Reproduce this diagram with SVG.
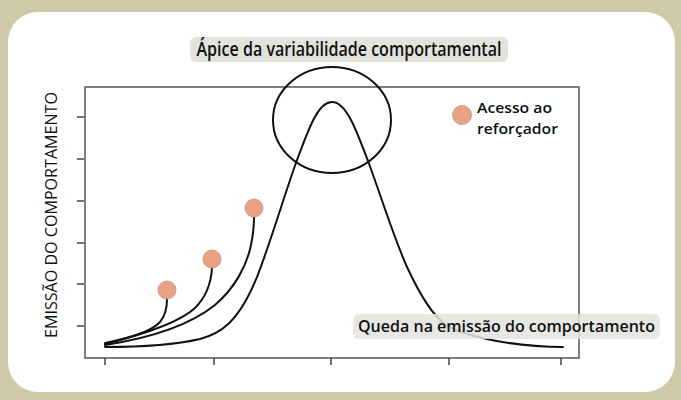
<svg xmlns="http://www.w3.org/2000/svg" width="681" height="400" viewBox="0 0 681 400">
<style>
.curve{fill:none;stroke:#111;stroke-width:2;stroke-linejoin:round;stroke-linecap:round}
.dot{fill:#e9a283;stroke:#c98c72;stroke-width:0.8}
.tick{stroke:#444;stroke-width:1.5}
.lbl{font-family:"Open Sans","Noto Sans",sans-serif;fill:#111;font-weight:600}
.tag{fill:#e3e3de}
</style>
<rect x="0" y="0" width="681" height="400" fill="#cfc9a8"/>
<rect x="8" y="12" width="667" height="380" rx="30" fill="#ffffff"/>
<g id="axes">
<rect x="85" y="87" width="494" height="271" fill="none" stroke="#555" stroke-width="1.5"/>
<path class="tick" d="M77 117H84M77 159H84M77 201H84M77 243H84M77 284H84M77 326H84"/>
<path class="tick" d="M105 358V365M214 358V365M331 358V365M449 358V365M561 358V365"/>
</g>
<g id="y-label"><text class="lbl" font-size="16" text-anchor="middle" transform="translate(57,215) rotate(-90)" textLength="246" lengthAdjust="spacingAndGlyphs" style="font-weight:400">EMISSÃO DO COMPORTAMENTO</text></g>
<g id="connectors">
<path class="curve" d="M105 347 C137 347 170 346 200 339 C219 334 238 324 257 277 C270 244 284 196 297 160 C309 128 318 102 332 102 C346 102 356 129 368 161 C381 196 394 238 407 267 C420 295 432 315 445 324 C465 338 520 347 563 347"/>
<path class="curve" d="M105 343 C130 338 152 331 160 322 C165 316 167 308 167 299"/>
<path class="curve" d="M105 344 C145 334 180 322 195 308 C205 298 211 285 212 268"/>
<path class="curve" d="M105 345 C150 338 190 325 215 305 C235 288 247 265 251 245 C253 235 254 226 254 217"/>
</g>
<g id="peak-circle"><ellipse cx="332" cy="120" rx="59" ry="53" fill="none" stroke="#111" stroke-width="2"/></g>
<g id="dots">
<circle class="dot" cx="167" cy="290" r="9"/>
<circle class="dot" cx="212" cy="259" r="9"/>
<circle class="dot" cx="254" cy="208" r="9"/>
</g>
<g id="legend">
<circle class="dot" cx="462" cy="115" r="9.5"/>
<text class="lbl" font-size="15" x="477" y="113" textLength="75" lengthAdjust="spacingAndGlyphs">Acesso ao</text>
<text class="lbl" font-size="15" x="477" y="134" textLength="81" lengthAdjust="spacingAndGlyphs">reforçador</text>
</g>
<g id="label-peak">
<rect class="tag" x="190" y="37" width="318" height="25" rx="6"/>
<text class="lbl" font-size="19" x="349" y="56" text-anchor="middle" textLength="305" lengthAdjust="spacingAndGlyphs">Ápice da variabilidade comportamental</text>
</g>
<g id="label-drop">
<rect class="tag" x="353" y="314" width="307" height="25" rx="6" fill-opacity="0.85"/>
<text class="lbl" font-size="17" x="358" y="332" textLength="297" lengthAdjust="spacingAndGlyphs">Queda na emissão do comportamento</text>
</g>
</svg>
